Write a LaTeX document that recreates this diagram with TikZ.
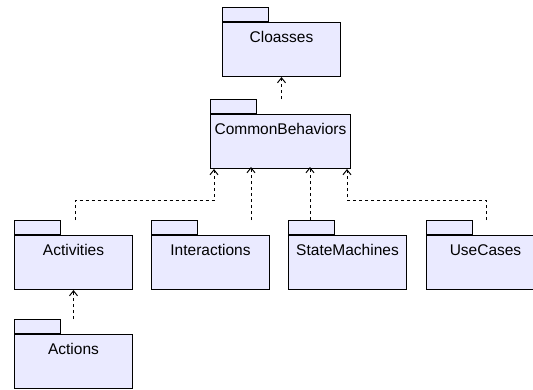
\documentclass[tikz,border=0pt]{standalone}
\usepackage{fontspec}
\setmainfont{Liberation Sans}
\usetikzlibrary{arrows.meta, positioning}

\definecolor{pkgfill}{RGB}{234,234,255}

\begin{document}
\begin{tikzpicture}[
        x = 1pt, y = -1pt, node distance = 18pt,
        >= {Straight Barb[length = 5pt, width = 8pt]},
        pkgbody/.style = {draw, line width = 1pt, fill = pkgfill, anchor = north west,
            minimum width = 118pt, inner sep = 0pt, text height = 19.5pt, text depth = 34.5pt,
            font = \fontsize{15.5pt}{18pt}\selectfont},
        pkgtab/.style = {draw, line width = 1pt, fill = pkgfill, anchor = south west,
            minimum width = 46pt, minimum height = 14pt, inner sep = 0pt},
        depend/.style = {->, line width = 1pt, dash pattern = on 3pt off 3pt}
    ]
      \useasboundingbox (0,0) rectangle (533,389);
      \clip (0,0) rectangle (533,389);

      \node[pkgbody] (cls) at (222,22) {Cloasses};
      \node[pkgbody, minimum width = 140pt] (cb) at (210,114) {CommonBehaviors};
      \node[pkgbody] (act) at (14,235) {Activities};
      \node[pkgbody] (int) [right = of act] {Interactions};
      \node[pkgbody] (sm) [right = of int] {StateMachines};
      \node[pkgbody] (uc) [right = 19pt of sm] {UseCases};
      \node[pkgbody] (acts) [below = 44pt of act] {Actions};

      \foreach \p in {cls, cb, act, int, sm, uc, acts}
        \node[pkgtab] (\p-tab) at (\p.north west) {};

      \draw[depend] (cls.south |- cb-tab.north) -- (cls.south);
      \draw[depend] ([xshift = 2pt]act.north |- act-tab.north) -- ++(0,-20)
        -| ([xshift = 4pt]cb.south west);
      \draw[depend] ([xshift = 100pt]int.north west |- int-tab.north) -- ++(0,-53);
      \draw[depend] ([xshift = 22pt]sm.north west |- sm-tab.north) -- ++(0,-53);
      \draw[depend] ([xshift = 60pt]uc.north west |- uc-tab.north) -- ++(0,-20)
        -| ([xshift = -4pt]cb.south east);
      \draw[depend] (acts.north |- acts-tab.north) -- (act.south);
    \end{tikzpicture}
\end{document}
